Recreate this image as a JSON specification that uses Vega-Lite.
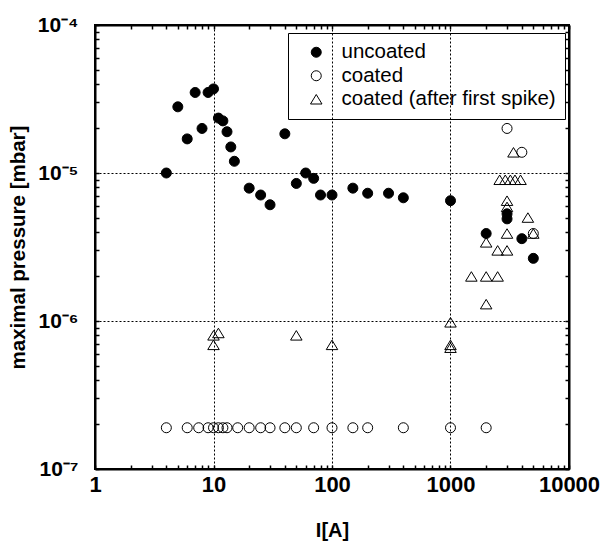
{
  "$schema": "https://vega.github.io/schema/vega-lite/v6.json",
  "width": 474,
  "height": 444,
  "autosize": {"type": "none"},
  "padding": {"left": 95, "top": 25, "right": 44, "bottom": 78},
  "config": {
    "view": {"stroke": "black", "strokeWidth": 2},
    "font": "Liberation Sans"
  },
  "data": {
    "values": [
      {"I": 4, "p": 1.0e-5, "series": "uncoated"},
      {"I": 5, "p": 2.8e-5, "series": "uncoated"},
      {"I": 6, "p": 1.7e-5, "series": "uncoated"},
      {"I": 7, "p": 3.5e-5, "series": "uncoated"},
      {"I": 8, "p": 2.0e-5, "series": "uncoated"},
      {"I": 9, "p": 3.5e-5, "series": "uncoated"},
      {"I": 10, "p": 3.7e-5, "series": "uncoated"},
      {"I": 11, "p": 2.35e-5, "series": "uncoated"},
      {"I": 12, "p": 2.25e-5, "series": "uncoated"},
      {"I": 13, "p": 1.9e-5, "series": "uncoated"},
      {"I": 14, "p": 1.5e-5, "series": "uncoated"},
      {"I": 15, "p": 1.2e-5, "series": "uncoated"},
      {"I": 20, "p": 7.9e-6, "series": "uncoated"},
      {"I": 25, "p": 7.1e-6, "series": "uncoated"},
      {"I": 30, "p": 6.1e-6, "series": "uncoated"},
      {"I": 40, "p": 1.84e-5, "series": "uncoated"},
      {"I": 50, "p": 8.5e-6, "series": "uncoated"},
      {"I": 60, "p": 1.0e-5, "series": "uncoated"},
      {"I": 70, "p": 9.2e-6, "series": "uncoated"},
      {"I": 80, "p": 7.1e-6, "series": "uncoated"},
      {"I": 100, "p": 7.1e-6, "series": "uncoated"},
      {"I": 150, "p": 7.9e-6, "series": "uncoated"},
      {"I": 200, "p": 7.3e-6, "series": "uncoated"},
      {"I": 300, "p": 7.3e-6, "series": "uncoated"},
      {"I": 400, "p": 6.8e-6, "series": "uncoated"},
      {"I": 1000, "p": 6.5e-6, "series": "uncoated"},
      {"I": 2000, "p": 3.9e-6, "series": "uncoated"},
      {"I": 3000, "p": 5.3e-6, "series": "uncoated"},
      {"I": 3000, "p": 4.9e-6, "series": "uncoated"},
      {"I": 4000, "p": 3.6e-6, "series": "uncoated"},
      {"I": 5000, "p": 2.65e-6, "series": "uncoated"},
      {"I": 4, "p": 1.9e-7, "series": "coated"},
      {"I": 6, "p": 1.9e-7, "series": "coated"},
      {"I": 7.5, "p": 1.9e-7, "series": "coated"},
      {"I": 9, "p": 1.9e-7, "series": "coated"},
      {"I": 10, "p": 1.9e-7, "series": "coated"},
      {"I": 11, "p": 1.9e-7, "series": "coated"},
      {"I": 12, "p": 1.9e-7, "series": "coated"},
      {"I": 13, "p": 1.9e-7, "series": "coated"},
      {"I": 16, "p": 1.9e-7, "series": "coated"},
      {"I": 20, "p": 1.9e-7, "series": "coated"},
      {"I": 25, "p": 1.9e-7, "series": "coated"},
      {"I": 30, "p": 1.9e-7, "series": "coated"},
      {"I": 40, "p": 1.9e-7, "series": "coated"},
      {"I": 50, "p": 1.9e-7, "series": "coated"},
      {"I": 70, "p": 1.9e-7, "series": "coated"},
      {"I": 100, "p": 1.9e-7, "series": "coated"},
      {"I": 150, "p": 1.9e-7, "series": "coated"},
      {"I": 200, "p": 1.9e-7, "series": "coated"},
      {"I": 400, "p": 1.9e-7, "series": "coated"},
      {"I": 1000, "p": 1.9e-7, "series": "coated"},
      {"I": 2000, "p": 1.9e-7, "series": "coated"},
      {"I": 3000, "p": 2.0e-5, "series": "coated"},
      {"I": 4000, "p": 1.38e-5, "series": "coated"},
      {"I": 5000, "p": 3.9e-6, "series": "coated"},
      {"I": 10, "p": 8.0e-7, "series": "coated (after first spike)"},
      {"I": 11, "p": 8.3e-7, "series": "coated (after first spike)"},
      {"I": 10, "p": 6.9e-7, "series": "coated (after first spike)"},
      {"I": 50, "p": 8.0e-7, "series": "coated (after first spike)"},
      {"I": 100, "p": 6.9e-7, "series": "coated (after first spike)"},
      {"I": 1000, "p": 9.8e-7, "series": "coated (after first spike)"},
      {"I": 1000, "p": 6.9e-7, "series": "coated (after first spike)"},
      {"I": 1000, "p": 6.6e-7, "series": "coated (after first spike)"},
      {"I": 1500, "p": 2.0e-6, "series": "coated (after first spike)"},
      {"I": 2000, "p": 2.0e-6, "series": "coated (after first spike)"},
      {"I": 2500, "p": 2.0e-6, "series": "coated (after first spike)"},
      {"I": 2000, "p": 1.3e-6, "series": "coated (after first spike)"},
      {"I": 2000, "p": 3.4e-6, "series": "coated (after first spike)"},
      {"I": 2500, "p": 3.0e-6, "series": "coated (after first spike)"},
      {"I": 3000, "p": 3.0e-6, "series": "coated (after first spike)"},
      {"I": 3000, "p": 3.9e-6, "series": "coated (after first spike)"},
      {"I": 4500, "p": 5.0e-6, "series": "coated (after first spike)"},
      {"I": 5000, "p": 3.9e-6, "series": "coated (after first spike)"},
      {"I": 3000, "p": 5.9e-6, "series": "coated (after first spike)"},
      {"I": 3000, "p": 6.5e-6, "series": "coated (after first spike)"},
      {"I": 2600, "p": 9.0e-6, "series": "coated (after first spike)"},
      {"I": 2900, "p": 9.0e-6, "series": "coated (after first spike)"},
      {"I": 3200, "p": 9.0e-6, "series": "coated (after first spike)"},
      {"I": 3500, "p": 9.0e-6, "series": "coated (after first spike)"},
      {"I": 3900, "p": 9.0e-6, "series": "coated (after first spike)"},
      {"I": 3400, "p": 1.38e-5, "series": "coated (after first spike)"}
    ]
  },
  "layer": [
    {
      "mark": {"type": "point", "strokeWidth": 1, "size": 100, "opacity": 1, "fillOpacity": 1, "strokeOpacity": 1},
      "encoding": {
        "x": {
          "field": "I", "type": "quantitative",
          "scale": {"type": "log", "domain": [1, 10000], "nice": false},
          "axis": {
            "orient": "bottom", "zindex": 1, "ticks": true,
            "values": [1,2,3,4,5,6,7,8,9,10,20,30,40,50,60,70,80,90,100,200,300,400,500,600,700,800,900,1000,2000,3000,4000,5000,6000,7000,8000,9000,10000],
            "labelExpr": "abs(log(datum.value)/LN10 - round(log(datum.value)/LN10)) < 0.001 ? format(datum.value, 'd') : ''",
            "labelFontSize": 22, "labelFontWeight": "bold", "labelColor": "black", "labelPadding": 9,
            "labelFlush": false, "labelOverlap": false,
            "tickSize": -4, "tickColor": "black", "tickWidth": 1.5, "tickOpacity": 1,
            "domainColor": "black", "domainWidth": 2,
            "grid": true, "gridColor": "black", "gridDash": [2, 2], "gridWidth": 1,
            "gridOpacity": {"condition": {"test": "abs(log(datum.value)/LN10 - round(log(datum.value)/LN10)) < 0.001", "value": 1}, "value": 0},
            "title": "I[A]", "titleFontSize": 20, "titleFontWeight": "bold", "titleColor": "black", "titlePadding": 25
          }
        },
        "y": {
          "field": "p", "type": "quantitative",
          "scale": {"type": "log", "domain": [1e-7, 1e-4], "nice": false},
          "axis": {
            "orient": "left", "zindex": 1, "ticks": true,
            "values": [1e-7,2e-7,3e-7,4e-7,5e-7,6e-7,7e-7,8e-7,9e-7,1e-6,2e-6,3e-6,4e-6,5e-6,6e-6,7e-6,8e-6,9e-6,1e-5,2e-5,3e-5,4e-5,5e-5,6e-5,7e-5,8e-5,9e-5,1e-4],
            "labelExpr": "abs(log(datum.value)/LN10 - round(log(datum.value)/LN10)) < 0.001 ? (round(log(datum.value)/LN10) == -4 ? '10⁻⁴' : round(log(datum.value)/LN10) == -5 ? '10⁻⁵' : round(log(datum.value)/LN10) == -6 ? '10⁻⁶' : '10⁻⁷') : ''",
            "labelFontSize": 21, "labelFontWeight": "bold", "labelColor": "black", "labelPadding": 21,
            "labelFlush": false, "labelOverlap": false,
            "tickSize": -4, "tickColor": "black", "tickWidth": 1.5, "tickOpacity": 1,
            "domainColor": "black", "domainWidth": 2,
            "grid": true, "gridColor": "black", "gridDash": [2, 2], "gridWidth": 1,
            "gridOpacity": {"condition": {"test": "abs(log(datum.value)/LN10 - round(log(datum.value)/LN10)) < 0.001", "value": 1}, "value": 0},
            "title": "maximal pressure [mbar]", "titleFontSize": 20.5, "titleFontWeight": "bold", "titleColor": "black", "titlePadding": 9
          }
        },
        "shape": {
          "field": "series", "type": "nominal",
          "scale": {"domain": ["uncoated", "coated", "coated (after first spike)"], "range": ["circle", "circle", "M0,-0.95L1.15,0.95L-1.15,0.95Z"]},
          "legend": {
            "title": null, "orient": "none", "legendX": 193, "legendY": 8,
            "strokeColor": "black", "fillColor": "white", "padding": 9,
            "labelFontSize": 20.5, "labelColor": "black", "labelLimit": 400,
            "symbolSize": 100, "symbolStrokeWidth": 1, "symbolStrokeColor": "black",
            "rowPadding": 2.5, "labelOffset": 15, "symbolOffset": 9,
            "encode": {"legend": {"update": {"strokeWidth": {"value": 1.5}}}}
          }
        },
        "fill": {
          "field": "series", "type": "nominal",
          "scale": {"domain": ["uncoated", "coated", "coated (after first spike)"], "range": ["black", "transparent", "transparent"]}
        },
        "stroke": {
          "field": "series", "type": "nominal",
          "scale": {"domain": ["uncoated", "coated", "coated (after first spike)"], "range": ["black", "black", "black"]}
        }
      }
    },
    {
      "mark": {"type": "point", "opacity": 0},
      "encoding": {
        "x": {
          "field": "I", "type": "quantitative",
          "scale": {"type": "log", "domain": [1, 10000], "nice": false},
          "axis": {
            "orient": "top", "zindex": 1, "ticks": true,
            "values": [1,2,3,4,5,6,7,8,9,10,20,30,40,50,60,70,80,90,100,200,300,400,500,600,700,800,900,1000,2000,3000,4000,5000,6000,7000,8000,9000,10000],
            "labels": false, "tickSize": -4, "tickColor": "black", "tickWidth": 1.5, "tickOpacity": 1, "domainColor": "black", "domainWidth": 2, "grid": false, "title": null
          }
        },
        "y": {
          "field": "p", "type": "quantitative",
          "scale": {"type": "log", "domain": [1e-7, 1e-4], "nice": false},
          "axis": {
            "orient": "right", "zindex": 1, "ticks": true,
            "values": [1e-7,2e-7,3e-7,4e-7,5e-7,6e-7,7e-7,8e-7,9e-7,1e-6,2e-6,3e-6,4e-6,5e-6,6e-6,7e-6,8e-6,9e-6,1e-5,2e-5,3e-5,4e-5,5e-5,6e-5,7e-5,8e-5,9e-5,1e-4],
            "labels": false, "tickSize": -4, "tickColor": "black", "tickWidth": 1.5, "tickOpacity": 1, "domainColor": "black", "domainWidth": 2, "grid": false, "title": null
          }
        }
      }
    }
  ],
  "resolve": {"scale": {"x": "independent", "y": "independent"}}
}
